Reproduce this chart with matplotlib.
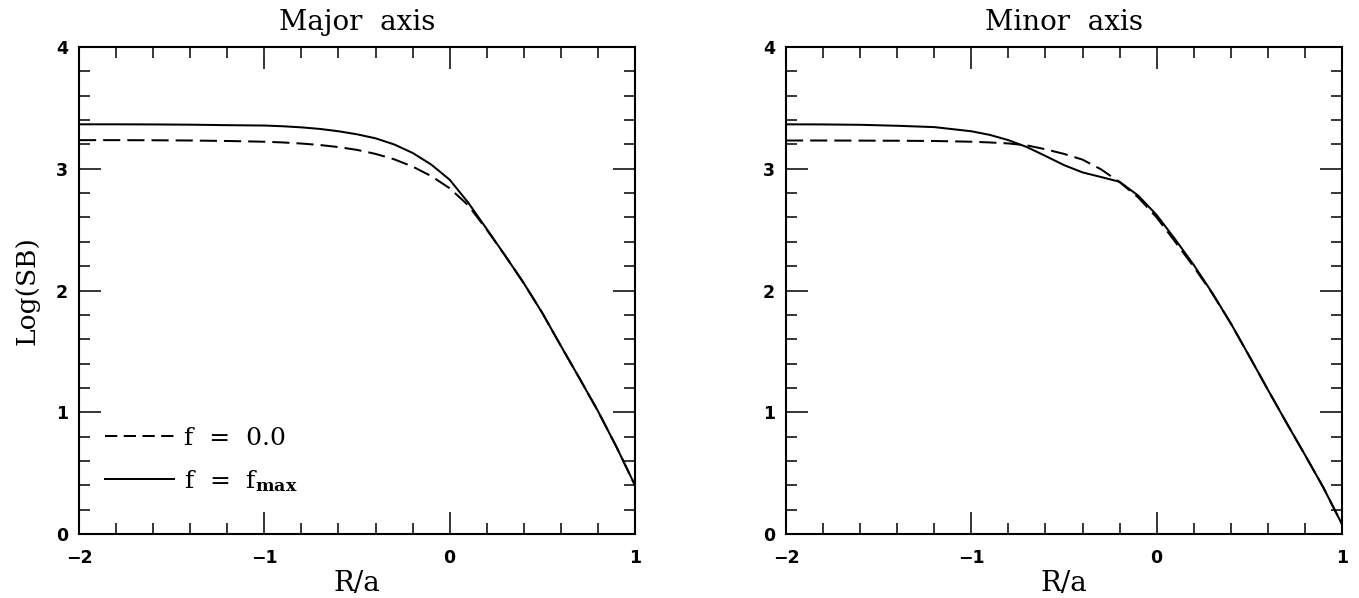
import matplotlib
matplotlib.use('Agg')
import matplotlib.pyplot as plt
from matplotlib.ticker import MultipleLocator, FixedLocator, FixedFormatter
from matplotlib.lines import Line2D

# ---------------- data ----------------
panel_titles = ['Major  axis', 'Minor  axis']
x_label = 'R/a'
y_label = 'Log(SB)'
legend_labels = ['f  =  0.0', r'f  =  f$_{\mathbf{max}}$']

r_over_a = [-2.0, -1.8, -1.6, -1.4, -1.2, -1.0, -0.9, -0.8, -0.7, -0.6, -0.5,
            -0.4, -0.3, -0.2, -0.1, 0.0, 0.1, 0.2, 0.3, 0.4, 0.5, 0.6, 0.7,
            0.8, 0.9, 1.0]

major_f0 = [3.235, 3.235, 3.234, 3.232, 3.228, 3.222, 3.216, 3.207, 3.195,
            3.178, 3.155, 3.122, 3.078, 3.018, 2.940, 2.840, 2.700, 2.500,
            2.285, 2.060, 1.815, 1.545, 1.280, 1.010, 0.715, 0.400]
major_fmax = [3.365, 3.365, 3.364, 3.362, 3.358, 3.355, 3.349, 3.340, 3.327,
              3.308, 3.283, 3.250, 3.200, 3.130, 3.035, 2.910, 2.722, 2.505,
              2.285, 2.060, 1.815, 1.545, 1.280, 1.010, 0.715, 0.400]

minor_f0 = [3.232, 3.232, 3.231, 3.230, 3.228, 3.222, 3.216, 3.208, 3.192,
            3.160, 3.122, 3.075, 2.995, 2.890, 2.765, 2.600, 2.400, 2.195,
            1.975, 1.730, 1.460, 1.185, 0.915, 0.650, 0.380, 0.080]
minor_fmax = [3.365, 3.364, 3.361, 3.353, 3.342, 3.308, 3.278, 3.235, 3.178,
              3.105, 3.030, 2.970, 2.932, 2.893, 2.780, 2.620, 2.420, 2.210,
              1.980, 1.730, 1.460, 1.185, 0.915, 0.650, 0.380, 0.080]

x_ticks = [-2, -1, 0, 1]
x_tick_labels = ['\u22122', '\u22121', '0', '1']
y_ticks = [0, 1, 2, 3, 4]
y_tick_labels = ['0', '1', '2', '3', '4']

# ---------------- style ----------------
plt.rcParams['font.family'] = ['DejaVu Serif']
plt.rcParams['mathtext.fontset'] = 'dejavuserif'

W, H = 1359, 598
fig = plt.figure(figsize=(W / 100, H / 100), dpi=100)

ax_bottom = 1 - 534 / H
ax_height = (534 - 47) / H
boxes = [(79 / W, ax_bottom, (635 - 79) / W, ax_height),
         (786 / W, ax_bottom, (1342 - 786) / W, ax_height)]

series = [(major_f0, major_fmax), (minor_f0, minor_fmax)]
dash = (8.5, 3.5)
lw = 1.45

for i, (box, (f0, fmax)) in enumerate(zip(boxes, series)):
    ax = fig.add_axes(box)
    ax.plot(r_over_a, f0, color='black', lw=lw, linestyle=(0, dash))
    ax.plot(r_over_a, fmax, color='black', lw=lw, linestyle='-')
    ax.set_xlim(-2, 1)
    ax.set_ylim(0, 4)
    ax.xaxis.set_major_locator(FixedLocator(x_ticks))
    ax.xaxis.set_major_formatter(FixedFormatter(x_tick_labels))
    ax.yaxis.set_major_locator(FixedLocator(y_ticks))
    ax.yaxis.set_major_formatter(FixedFormatter(y_tick_labels))
    ax.xaxis.set_minor_locator(MultipleLocator(0.2))
    ax.yaxis.set_minor_locator(MultipleLocator(0.2))
    ax.tick_params(which='both', direction='in', top=True, right=True,
                   width=1.1, color='black')
    ax.tick_params(which='major', length=15.5)
    ax.tick_params(which='minor', length=8)
    ax.tick_params(axis='x', which='major', pad=11, labelsize=12.5)
    ax.tick_params(axis='y', which='major', pad=8, labelsize=12.5)
    for lab in ax.get_xticklabels() + ax.get_yticklabels():
        lab.set_family('DejaVu Sans')
        lab.set_fontweight('bold')
    for sp in ax.spines.values():
        sp.set_linewidth(1.5)
    ax.set_title(panel_titles[i], fontsize=20, pad=12)
    ax.set_xlabel(x_label, fontsize=20, labelpad=2)
    if i == 0:
        ax.set_ylabel(y_label, fontsize=19, labelpad=12)
        handles = [Line2D([], [], color='black', lw=lw, linestyle=(0, (6.1, 3.2))),
                   Line2D([], [], color='black', lw=lw, linestyle='-')]
        ax.legend(handles, legend_labels, loc='center left',
                  bbox_to_anchor=(0.047, 0.151), frameon=False,
                  fontsize=18, handlelength=2.75, handletextpad=0.4,
                  labelspacing=0.72, borderpad=0, borderaxespad=0)

fig.savefig('out.png', dpi=100)
